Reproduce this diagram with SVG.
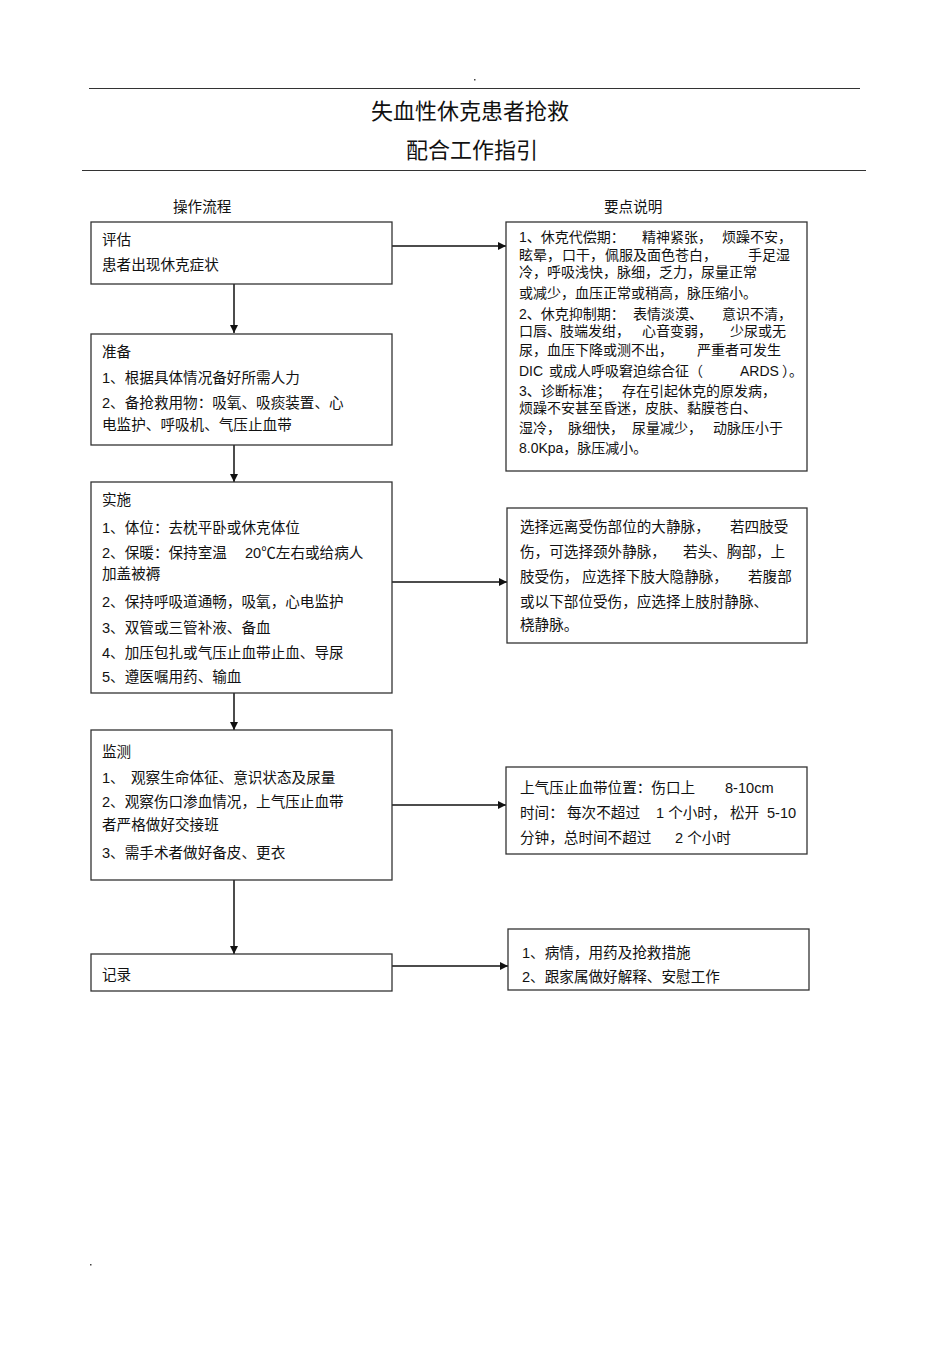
<svg xmlns="http://www.w3.org/2000/svg" width="950" height="1345" viewBox="0 0 950 1345">
<defs>
<style>
.t{font-family:"Liberation Sans","Noto Sans CJK SC",sans-serif;font-size:14.6px;fill:#111;}
.s{font-size:14px;}
.h{font-family:"Noto Sans CJK SC","Liberation Sans",sans-serif;font-size:22px;fill:#111;text-anchor:middle;}
.box{fill:#fff;stroke:#333;stroke-width:1.3;}
.c{stroke:#111;stroke-width:1.5;fill:none;}
</style>
<marker id="ah" viewBox="0 0 10 10" refX="10" refY="5" markerWidth="8" markerHeight="8" markerUnits="userSpaceOnUse" orient="auto">
<path d="M0,0 L10,5 L0,10 Z" fill="#111"/>
</marker>
</defs>
<rect width="950" height="1345" fill="#fff"/>
<g id="header">
<rect x="474" y="79" width="1.5" height="1.5" fill="#444"/>
<line x1="89" y1="88.5" x2="860" y2="88.5" stroke="#333" stroke-width="1.2"/>
<text class="h" x="470" y="119">失血性休克患者抢救</text>
<text class="h" x="472" y="158">配合工作指引</text>
<line x1="82" y1="170.5" x2="866" y2="170.5" stroke="#333" stroke-width="1.2"/>
<text class="t" x="173" y="212">操作流程</text>
<text class="t" x="604" y="212">要点说明</text>
<rect x="90" y="1264" width="1.5" height="1.5" fill="#444"/>
</g>
<g id="connectors">
<line class="c" x1="234" y1="284" x2="234" y2="333" marker-end="url(#ah)"/>
<line class="c" x1="234" y1="445" x2="234" y2="482" marker-end="url(#ah)"/>
<line class="c" x1="234" y1="693" x2="234" y2="730" marker-end="url(#ah)"/>
<line class="c" x1="234" y1="880" x2="234" y2="954" marker-end="url(#ah)"/>
<line class="c" x1="392" y1="246" x2="506" y2="246" marker-end="url(#ah)"/>
<line class="c" x1="392" y1="582" x2="507" y2="582" marker-end="url(#ah)"/>
<line class="c" x1="392" y1="805" x2="506" y2="805" marker-end="url(#ah)"/>
<line class="c" x1="392" y1="966" x2="508" y2="966" marker-end="url(#ah)"/>
</g>
<g id="n-assess">
<rect class="box" x="91" y="222" width="301" height="62"/>
<text class="t" x="102" y="245">评估</text>
<text class="t" x="102" y="270">患者出现休克症状</text>
</g>
<g id="n-prepare">
<rect class="box" x="91" y="334" width="301" height="111"/>
<text class="t" x="102" y="357">准备</text>
<text class="t" x="102" y="383">1、根据具体情况备好所需人力</text>
<text class="t" x="102" y="408">2、备抢救用物：吸氧、吸痰装置、心</text>
<text class="t" x="102" y="430">电监护、呼吸机、气压止血带</text>
</g>
<g id="n-implement">
<rect class="box" x="91" y="482" width="301" height="211"/>
<text class="t" x="102" y="505">实施</text>
<text class="t" x="102" y="533">1、体位：去枕平卧或休克体位</text>
<text class="t" y="558"><tspan x="102">2、保暖：保持室温</tspan><tspan x="245">20℃左右或给病人</tspan></text>
<text class="t" x="102" y="579">加盖被褥</text>
<text class="t" x="102" y="607">2、保持呼吸道通畅，吸氧，心电监护</text>
<text class="t" x="102" y="633">3、双管或三管补液、备血</text>
<text class="t" x="102" y="658">4、加压包扎或气压止血带止血、导尿</text>
<text class="t" x="102" y="682">5、遵医嘱用药、输血</text>
</g>
<g id="n-monitor">
<rect class="box" x="91" y="730" width="301" height="150"/>
<text class="t" x="102" y="757">监测</text>
<text class="t" y="783"><tspan x="102">1、</tspan><tspan x="131">观察生命体征、意识状态及尿量</tspan></text>
<text class="t" x="102" y="807">2、观察伤口渗血情况，上气压止血带</text>
<text class="t" x="102" y="830">者严格做好交接班</text>
<text class="t" x="102" y="858">3、需手术者做好备皮、更衣</text>
</g>
<g id="n-record">
<rect class="box" x="91" y="954" width="301" height="37"/>
<text class="t" x="102" y="980">记录</text>
</g>
<g id="n-note1">
<rect class="box" x="506" y="222" width="301" height="249"/>
<text class="t s" y="242"><tspan x="519">1、休克代偿期：</tspan><tspan x="642">精神紧张，</tspan><tspan x="722">烦躁不安，</tspan></text>
<text class="t s" y="260"><tspan x="519">眩晕，</tspan><tspan x="562">口干，</tspan><tspan x="605">佩服及面色苍白，</tspan><tspan x="748">手足湿</tspan></text>
<text class="t s" x="519" y="277">冷，呼吸浅快，脉细，乏力，尿量正常</text>
<text class="t s" x="519" y="298">或减少，血压正常或稍高，脉压缩小。</text>
<text class="t s" y="319"><tspan x="519">2、休克抑制期：</tspan><tspan x="633">表情淡漠、</tspan><tspan x="722">意识不清，</tspan></text>
<text class="t s" y="336"><tspan x="519">口唇、</tspan><tspan x="560">肢端发绀，</tspan><tspan x="642">心音变弱，</tspan><tspan x="730">少尿或无</tspan></text>
<text class="t s" y="355"><tspan x="519">尿，血压下降或测不出，</tspan><tspan x="697">严重者可发生</tspan></text>
<text class="t s" y="376"><tspan x="519">DIC</tspan><tspan x="549">或成人呼吸窘迫综合征（</tspan><tspan x="740">ARDS</tspan><tspan x="782">）。</tspan></text>
<text class="t s" y="396"><tspan x="519">3、诊断标准；</tspan><tspan x="622">存在引起休克的原发病，</tspan></text>
<text class="t s" x="519" y="413">烦躁不安甚至昏迷，皮肤、黏膜苍白、</text>
<text class="t s" y="433"><tspan x="519">湿冷，</tspan><tspan x="568">脉细快，</tspan><tspan x="632">尿量减少，</tspan><tspan x="713">动脉压小于</tspan></text>
<text class="t s" x="519" y="453">8.0Kpa，脉压减小。</text>
</g>
<g id="n-note2">
<rect class="box" x="507" y="508" width="300" height="135"/>
<text class="t" y="532"><tspan x="520">选择远离受伤部位的大静脉，</tspan><tspan x="730">若四肢受</tspan></text>
<text class="t" y="557"><tspan x="520">伤，可选择颈外静脉，</tspan><tspan x="683">若头、胸部，上</tspan></text>
<text class="t" y="582"><tspan x="520">肢受伤，</tspan><tspan x="582">应选择下肢大隐静脉，</tspan><tspan x="748">若腹部</tspan></text>
<text class="t" x="520" y="607">或以下部位受伤，应选择上肢肘静脉、</text>
<text class="t" x="520" y="630">桡静脉。</text>
</g>
<g id="n-note3">
<rect class="box" x="506" y="767" width="301" height="87"/>
<text class="t" y="793"><tspan x="520">上气压止血带位置：伤口上</tspan><tspan x="725">8-10cm</tspan></text>
<text class="t" y="818"><tspan x="520">时间：</tspan><tspan x="567">每次不超过</tspan><tspan x="656">1 个小时，</tspan><tspan x="730">松开</tspan><tspan x="767">5-10</tspan></text>
<text class="t" y="843"><tspan x="520">分钟，总时间不超过</tspan><tspan x="675">2 个小时</tspan></text>
</g>
<g id="n-note4">
<rect class="box" x="508" y="929" width="301" height="61"/>
<text class="t" x="522" y="958">1、病情，用药及抢救措施</text>
<text class="t" x="522" y="982">2、跟家属做好解释、安慰工作</text>
</g>
</svg>
